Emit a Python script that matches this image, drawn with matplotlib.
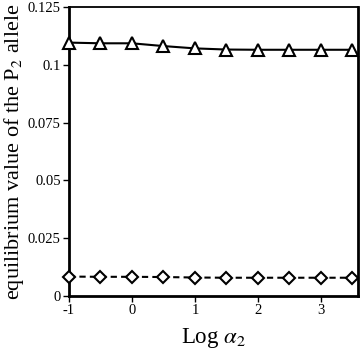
import numpy as np
import matplotlib
matplotlib.use("Agg")
from matplotlib import pyplot as plt

log_alpha = [-1, -0.5, 0, 0.5, 1, 1.5, 2, 2.5, 3, 3.5]
p2_upper = [0.1096, 0.1093, 0.1093, 0.1081, 0.1071, 0.1066, 0.1065, 0.1065, 0.1065, 0.1065]
p2_lower = [0.0084, 0.0083, 0.0083, 0.0082, 0.0080, 0.0079, 0.0079, 0.0079, 0.0079, 0.0079]

plt.rcParams['font.family'] = ['Liberation Serif', 'DejaVu Serif']
plt.rcParams['mathtext.fontset'] = 'stix'

fig = plt.figure(figsize=(3.6, 3.49), dpi=100)
ax = fig.add_axes([69/360, 1 - 296/349, 289/360, 289/349])

ax.plot(log_alpha, p2_upper, color='black', lw=1.5, marker='^', ms=8.5,
        mfc='white', mec='black', mew=1.5, clip_on=False, zorder=3)
ax.plot(log_alpha, p2_lower, color='black', lw=1.5, ls=(0, (3, 2)), marker='D', ms=6.5,
        mfc='white', mec='black', mew=1.5, clip_on=False, zorder=3)

ax.set_xlim(-1, 3.59)
ax.set_ylim(0, 0.125)
ax.set_xticks([-1, 0, 1, 2, 3])
ax.set_xticklabels(['-1', '0', '1', '2', '3'])
ax.set_yticks([0, 0.025, 0.05, 0.075, 0.1, 0.125])
ax.set_yticklabels(['0', '0.025', '0.05', '0.075', '0.1', '0.125'])
ax.tick_params(direction='out', length=4, width=1, labelsize=10.5, pad=2)

for side in ['left', 'bottom', 'right']:
    ax.spines[side].set_linewidth(2)
ax.spines['top'].set_linewidth(1.3)

ax.set_xlabel(r'Log $\alpha_2$', fontsize=16.5, labelpad=6)
ax.set_ylabel(r'equilibrium value of the P$_2$ allele', fontsize=16, labelpad=1)

fig.savefig('out.png', dpi=100)
